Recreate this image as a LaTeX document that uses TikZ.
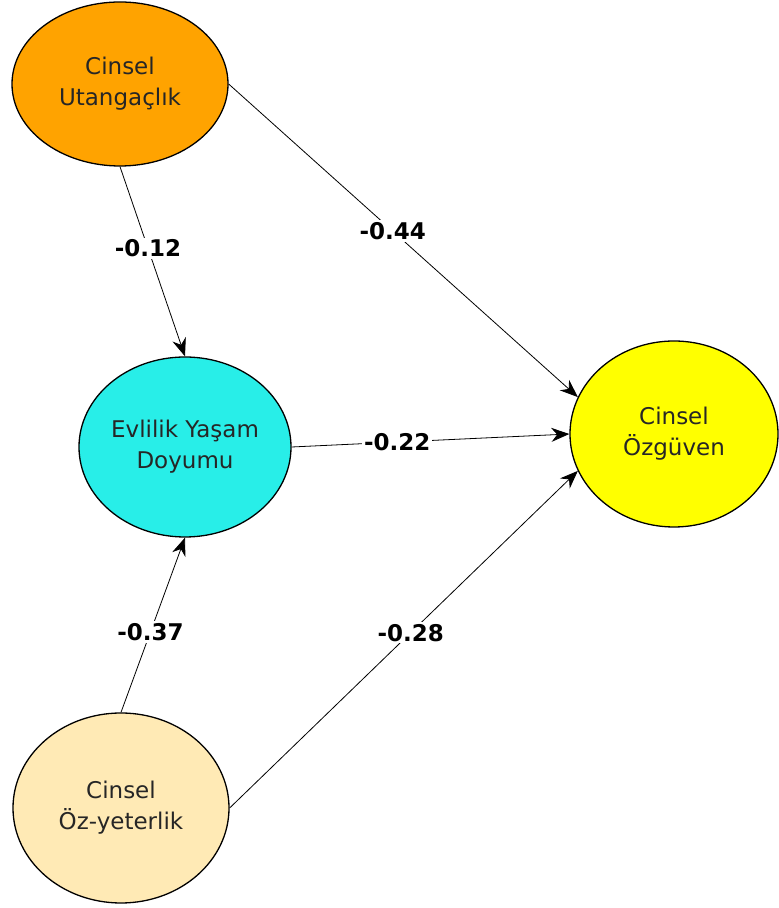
\documentclass[tikz,border=0pt]{standalone}
\usepackage{fontspec}
\setmainfont{DejaVu Sans}
\usepackage{tikz}
\usetikzlibrary{arrows.meta,shapes.geometric}

\definecolor{utangacfill}{RGB}{255,163,0}
\definecolor{evlilikfill}{RGB}{40,238,232}
\definecolor{ozguvenfill}{RGB}{255,255,0}
\definecolor{yeterlikfill}{RGB}{255,234,181}

\begin{document}
\begin{tikzpicture}[x=1pt,y=1pt,
  latent/.style={draw,ellipse,line width=1.3pt,inner sep=0pt,align=center,text=black!85,font=\fontsize{23}{31}\selectfont},
  weight/.style={fill=white,inner sep=2pt,text=black,font=\fontsize{23}{27}\selectfont\bfseries},
  path/.style={line width=0.8pt,-{Stealth[length=18pt,width=14pt]}}]

\path[use as bounding box,fill=white] (0,0) rectangle (779,908);

\node (utangaclik) [latent,fill=utangacfill,minimum width=216pt,minimum height=164pt] at (120, 824) {Cinsel\\Utangaçlık};
\node (evlilik) [latent,fill=evlilikfill,minimum width=212pt,minimum height=180pt] at (185, 461) {Evlilik Yaşam\\Doyumu};
\node (ozguven) [latent,fill=ozguvenfill,minimum width=208pt,minimum height=186pt] at (674, 474) {Cinsel\\Özgüven};
\node (ozyeterlik) [latent,fill=yeterlikfill,minimum width=216pt,minimum height=190pt] at (121, 100) {Cinsel\\Öz-yeterlik};

\draw[path] (utangaclik.south) -- node[weight,pos=0.43] {-0.12} (evlilik.north);
\draw[path] (utangaclik.east) -- node[weight,pos=0.47] {-0.44} (ozguven.159);
\draw[path] (evlilik.east) -- node[weight,pos=0.38] {-0.22} (ozguven.west);
\draw[path] (ozyeterlik.north) -- node[weight,pos=0.46] {-0.37} (evlilik.south);
\draw[path] (ozyeterlik.east) -- node[weight,pos=0.52] {-0.28} (ozguven.201);

\end{tikzpicture}
\end{document}
